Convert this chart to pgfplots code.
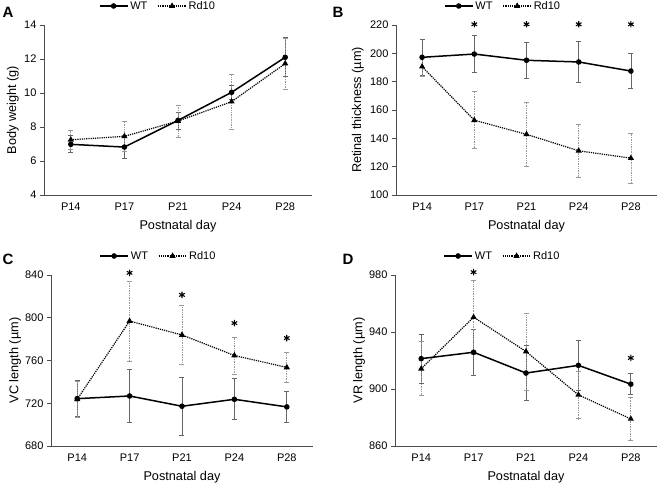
\documentclass[border=0pt]{standalone}
\usepackage{fontspec}
\setmainfont{Liberation Sans}
\usepackage{pgfplots}
\pgfplotsset{compat=1.18}

\pgfplotsset{
  panel/.style={
    scale only axis,
    xmin=-0.5, xmax=4.5,
    xtick={0,1,2,3,4}, xticklabels={P14,P17,P21,P24,P28},
    axis x line*=bottom, axis y line*=left,
    axis line style={-, black!70, line width=0.6pt},
    xtick style={draw=none},
    ytick style={black!70, line width=0.6pt},
    tick align=outside, major tick length=4pt,
    tick label style={font=\fontsize{11}{13}\selectfont},
    label style={font=\fontsize{12.7}{14}\selectfont},
    xlabel={Postnatal day},
    xlabel style={at={(axis description cs:0.5,0)}, anchor=center, yshift=-31pt},
    /pgf/number format/assume math mode=true,
    legend columns=2,
    legend style={draw=none, fill=none, font=\fontsize{11}{13}\selectfont,
      anchor=center, at={(axis description cs:0.41,1)}, yshift=19pt,
      /tikz/every even column/.append style={column sep=8pt}},
    legend image code/.code={\draw[mark repeat=2,mark phase=2] plot coordinates {(0pt,0pt)(14pt,0pt)(28pt,0pt)};},
    clip=false,
  },
  wt/.style={black, line width=1.5pt, mark=*, mark size=2pt, mark options={solid},
    error bars/.cd, y dir=both, y explicit,
    error bar style={black!60, line width=0.7pt, solid},
    error mark options={rotate=90, black!60, mark size=2.5pt, line width=0.7pt}},
  rd/.style={black, densely dotted, line width=1.2pt, mark=triangle*, mark size=2.4pt, mark options={solid},
    error bars/.cd, y dir=both, y explicit,
    error bar style={black!40, line width=0.7pt, densely dotted},
    error mark options={rotate=90, black!40, mark size=2.5pt, line width=0.7pt, solid}},
  star/.style={only marks, mark=asterisk, mark size=3.2pt, line width=1.1pt, black, forget plot},
}

\begin{document}
\begin{tikzpicture}
\path[use as bounding box] (0pt,0pt) rectangle (658pt,-484pt);

% A: body weight
\begin{axis}[panel, at={(44pt,-195pt)}, anchor=south west, width=268pt, height=170pt,
  ymin=4, ymax=14, ytick={4,6,8,10,12,14},
  ylabel={Body weight (g)},
  ylabel style={at={(axis description cs:-0.116,0.5)}, anchor=center},
  legend style={at={(axis description cs:0.425,1)}}]
\addplot[wt] coordinates {(0,6.98) +- (0,0.5) (1,6.82) +- (0,0.66) (2,8.39) +- (0,0.5) (3,10.04) +- (0,0.4) (4,12.1) +- (0,1.15)};
\addlegendentry{WT}
\addplot[rd] coordinates {(0,7.25) +- (0,0.55) (1,7.45) +- (0,0.86) (2,8.35) +- (0,0.95) (3,9.49) +- (0,1.63) (4,11.73) +- (0,1.49)};
\addlegendentry{Rd10}
\end{axis}

% B: retinal thickness
\begin{axis}[panel, at={(396pt,-195pt)}, anchor=south west, width=261pt, height=170pt,
  ymin=100, ymax=220, ytick={100,120,...,220},
  ylabel={Retinal thickness (\textmu m)},
  ylabel style={at={(axis description cs:-0.146,0.5)}, anchor=center}]
\addplot[wt] coordinates {(0,197.2) +- (0,12.9) (1,199.5) +- (0,13) (2,195.1) +- (0,12.7) (3,193.9) +- (0,14.6) (4,187.5) +- (0,12.3)};
\addlegendentry{WT}
\addplot[rd] coordinates {(0,190.6) +- (0,7) (1,152.8) +- (0,20.2) (2,142.8) +- (0,22.5) (3,131.2) +- (0,18.5) (4,126) +- (0,17.6)};
\addlegendentry{Rd10}
\addplot[star] coordinates {(1,220.5) (2,220.5) (3,220.5) (4,220.5)};
\end{axis}

% C: VC length
\begin{axis}[panel, at={(51pt,-446pt)}, anchor=south west, width=262pt, height=171pt,
  ymin=680, ymax=840, ytick={680,720,...,840},
  ylabel={VC length (\textmu m)},
  ylabel style={at={(axis description cs:-0.137,0.5)}, anchor=center}]
\addplot[wt] coordinates {(0,724.3) +- (0,17) (1,726.8) +- (0,25) (2,717.2) +- (0,26.8) (3,723.7) +- (0,19.2) (4,716.6) +- (0,14.4)};
\addlegendentry{WT}
\addplot[rd] coordinates {(0,723.7) +- (0,17) (1,796.9) +- (0,37.4) (2,783.9) +- (0,27.6) (3,764.7) +- (0,17.4) (4,753.5) +- (0,14)};
\addlegendentry{Rd10}
\addplot[star] coordinates {(1,842) (2,821.4) (3,795) (4,781)};
\end{axis}

% D: VR length
\begin{axis}[panel, at={(395pt,-446pt)}, anchor=south west, width=262pt, height=171pt,
  ymin=860, ymax=980, ytick={860,900,...,980},
  ylabel={VR length (\textmu m)},
  ylabel style={at={(axis description cs:-0.137,0.5)}, anchor=center}]
\addplot[wt] coordinates {(0,921.3) +- (0,17.4) (1,925.8) +- (0,16) (2,911.2) +- (0,19.5) (3,916.6) +- (0,17.5) (4,903.4) +- (0,7.4)};
\addlegendentry{WT}
\addplot[rd] coordinates {(0,914.2) +- (0,19) (1,950.4) +- (0,25.8) (2,926.3) +- (0,27) (3,895.9) +- (0,16.8) (4,879) +- (0,15)};
\addlegendentry{Rd10}
\addplot[star] coordinates {(1,982) (4,921.8)};
\end{axis}

\node[font=\bfseries\fontsize{15}{15}\selectfont] at (8pt,-12pt) {A};
\node[font=\bfseries\fontsize{15}{15}\selectfont] at (338pt,-12pt) {B};
\node[font=\bfseries\fontsize{15}{15}\selectfont] at (8pt,-259pt) {C};
\node[font=\bfseries\fontsize{15}{15}\selectfont] at (348pt,-259pt) {D};
\end{tikzpicture}
\end{document}
